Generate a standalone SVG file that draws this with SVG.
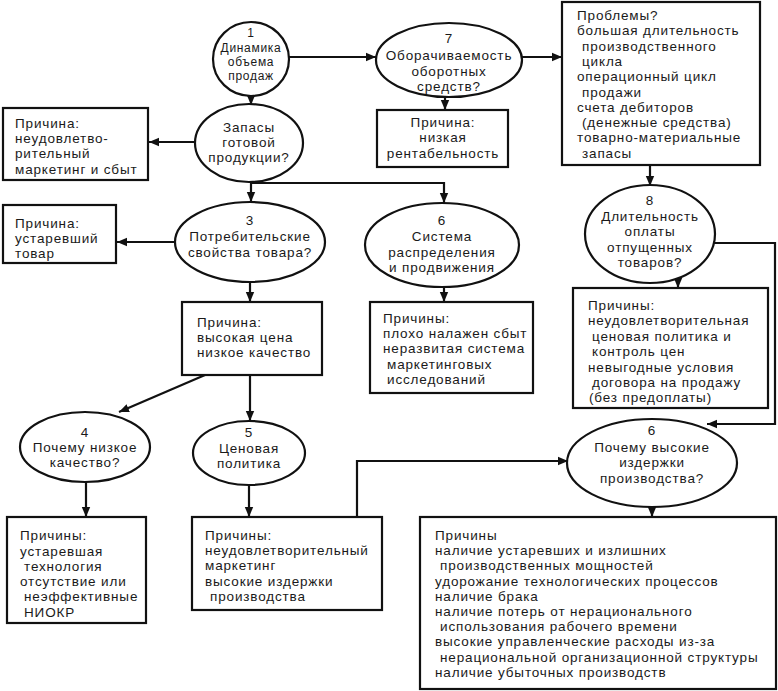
<svg xmlns="http://www.w3.org/2000/svg" width="778" height="691" viewBox="0 0 778 691">
<defs>
<marker id="ah" markerUnits="userSpaceOnUse" markerWidth="10" markerHeight="10" viewBox="0 0 10 10" refX="10" refY="5" orient="auto">
<path d="M0,0.8 L10,5 L0,9.2 Z" fill="#111"/>
</marker>
<style>
.sh{fill:#fff;stroke:#111;stroke-width:2.2}
.ln{fill:none;stroke:#111;stroke-width:2.2}
.t{font-family:"Liberation Sans",Arial,sans-serif;font-size:13.5px;letter-spacing:0.85px;fill:#1a1a1a}
.c{text-anchor:middle}
.s{font-size:12px;letter-spacing:0.7px}
</style>
</defs>
<rect width="778" height="691" fill="#fff"/>
<g id="connectors">
<path class="ln" d="M289,57 L376,57" marker-end="url(#ah)"/>
<path class="ln" d="M251,96 L251,105" marker-end="url(#ah)"/>
<path class="ln" d="M195,142 L149,142" marker-end="url(#ah)"/>
<path class="ln" d="M251,182 L251,202" marker-end="url(#ah)"/>
<path class="ln" d="M251,183 L444,183 L444,203" marker-end="url(#ah)"/>
<path class="ln" d="M175,242 L117,242" marker-end="url(#ah)"/>
<path class="ln" d="M250,282 L250,302" marker-end="url(#ah)"/>
<path class="ln" d="M205,375 L119,412" marker-end="url(#ah)"/>
<path class="ln" d="M250,375 L250,421" marker-end="url(#ah)"/>
<path class="ln" d="M86,482 L86,517" marker-end="url(#ah)"/>
<path class="ln" d="M249,485 L249,517" marker-end="url(#ah)"/>
<path class="ln" d="M357,517 L357,461 L568,461" marker-end="url(#ah)"/>
<path class="ln" d="M522,57 L562,57" marker-end="url(#ah)"/>
<path class="ln" d="M445,97 L445,110" marker-end="url(#ah)"/>
<path class="ln" d="M650,165 L650,186" marker-end="url(#ah)"/>
<path class="ln" d="M444,287 L444,302" marker-end="url(#ah)"/>
<path class="ln" d="M678,277 L678,288" marker-end="url(#ah)"/>
<path class="ln" d="M713,243 L775,243 L775,424 L707,424" marker-end="url(#ah)"/>
<path class="ln" d="M652,506 L652,517" marker-end="url(#ah)"/>
</g>
<g id="n1">
<ellipse class="sh" cx="251" cy="59" rx="38" ry="37"/>
<text class="t c s"><tspan x="251" y="37">1</tspan><tspan x="251" y="51.5">Динамика</tspan><tspan x="251" y="65.5">объема</tspan><tspan x="251" y="79.5">продаж</tspan></text>
</g>
<g id="n2">
<ellipse class="sh" cx="249" cy="143" rx="54" ry="39"/>
<text class="t c"><tspan x="249" y="132">Запасы</tspan><tspan x="249" y="147.2">готовой</tspan><tspan x="249" y="162.4">продукции?</tspan></text>
</g>
<g id="boxA">
<rect class="sh" x="3" y="108" width="145" height="72"/>
<text class="t"><tspan x="15" y="128">Причина:</tspan><tspan x="15" y="143.2">неудовлетво-</tspan><tspan x="15" y="158.4">рительный</tspan><tspan x="15" y="173.6">маркетинг и сбыт</tspan></text>
</g>
<g id="n3">
<ellipse class="sh" cx="250" cy="242" rx="75" ry="40"/>
<text class="t c"><tspan x="250" y="225">3</tspan><tspan x="250" y="241">Потребительские</tspan><tspan x="250" y="257">свойства товара?</tspan></text>
</g>
<g id="boxB">
<rect class="sh" x="3" y="205" width="113" height="58"/>
<text class="t"><tspan x="15" y="228">Причина:</tspan><tspan x="15" y="243.2">устаревший</tspan><tspan x="15" y="258.4">товар</tspan></text>
</g>
<g id="boxC">
<rect class="sh" x="182" y="302" width="140" height="73"/>
<text class="t"><tspan x="197" y="327">Причина:</tspan><tspan x="197" y="342.2">высокая цена</tspan><tspan x="197" y="357.4">низкое качество</tspan></text>
</g>
<g id="n4">
<ellipse class="sh" cx="85" cy="447" rx="65" ry="35"/>
<text class="t c"><tspan x="85" y="437">4</tspan><tspan x="85" y="452.2">Почему низкое</tspan><tspan x="85" y="467.4">качество?</tspan></text>
</g>
<g id="n5">
<ellipse class="sh" cx="249" cy="453" rx="56" ry="32"/>
<text class="t c"><tspan x="249" y="437">5</tspan><tspan x="249" y="453">Ценовая</tspan><tspan x="249" y="468.2">политика</tspan></text>
</g>
<g id="boxD">
<rect class="sh" x="7" y="517" width="139" height="106"/>
<text class="t"><tspan x="20" y="540">Причины:</tspan><tspan x="20" y="555.6">устаревшая</tspan><tspan x="24" y="571">технология</tspan><tspan x="20" y="586.2">отсутствие или</tspan><tspan x="24" y="601.4">неэффективные</tspan><tspan x="24" y="616.6">НИОКР</tspan></text>
</g>
<g id="boxE">
<rect class="sh" x="192" y="517" width="190" height="93"/>
<text class="t"><tspan x="205" y="540">Причины:</tspan><tspan x="205" y="555.2">неудовлетворительный</tspan><tspan x="205" y="570.4">маркетинг</tspan><tspan x="205" y="585.6">высокие издержки</tspan><tspan x="210" y="600.8">производства</tspan></text>
</g>
<g id="n7">
<ellipse class="sh" cx="449" cy="60" rx="73" ry="37"/>
<text class="t c"><tspan x="449" y="43">7</tspan><tspan x="449" y="60">Оборачиваемость</tspan><tspan x="449" y="76">оборотных</tspan><tspan x="449" y="91.2">средств?</tspan></text>
</g>
<g id="boxF">
<rect class="sh" x="377" y="110" width="131" height="57"/>
<text class="t c"><tspan x="443" y="127">Причина:</tspan><tspan x="443" y="142.2">низкая</tspan><tspan x="443" y="158">рентабельность</tspan></text>
</g>
<g id="boxProblems">
<rect class="sh" x="562" y="2" width="198" height="163"/>
<text class="t"><tspan x="577" y="20">Проблемы?</tspan><tspan x="577" y="35.3">большая длительность</tspan><tspan x="582" y="50.6">производственного</tspan><tspan x="582" y="65.9">цикла</tspan><tspan x="577" y="81.2">операционный цикл</tspan><tspan x="582" y="96.5">продажи</tspan><tspan x="577" y="111.8">счета дебиторов</tspan><tspan x="582" y="127.1">(денежные средства)</tspan><tspan x="577" y="142.4">товарно-материальные</tspan><tspan x="582" y="157.7">запасы</tspan></text>
</g>
<g id="n8">
<ellipse class="sh" cx="650" cy="234" rx="65" ry="49"/>
<text class="t c"><tspan x="650" y="205">8</tspan><tspan x="650" y="220.5">Длительность</tspan><tspan x="650" y="236">оплаты</tspan><tspan x="650" y="251.5">отпущенных</tspan><tspan x="650" y="267">товаров?</tspan></text>
</g>
<g id="boxG">
<rect class="sh" x="573" y="288" width="195" height="120"/>
<text class="t"><tspan x="588" y="310">Причины:</tspan><tspan x="588" y="325.4">неудовлетворительная</tspan><tspan x="592" y="340.8">ценовая политика и</tspan><tspan x="592" y="356.2">контроль цен</tspan><tspan x="588" y="371.6">невыгодные условия</tspan><tspan x="592" y="387">договора на продажу</tspan><tspan x="589" y="402.4">(без предоплаты)</tspan></text>
</g>
<g id="n6">
<ellipse class="sh" cx="442" cy="245" rx="77" ry="42"/>
<text class="t c"><tspan x="442" y="225">6</tspan><tspan x="442" y="241">Система</tspan><tspan x="442" y="256.5">распределения</tspan><tspan x="442" y="272">и продвижения</tspan></text>
</g>
<g id="box6">
<rect class="sh" x="370" y="302" width="163" height="91"/>
<text class="t"><tspan x="383" y="323">Причины:</tspan><tspan x="383" y="338.2">плохо налажен сбыт</tspan><tspan x="383" y="353.4">неразвитая система</tspan><tspan x="387" y="368.6">маркетинговых</tspan><tspan x="387" y="383.8">исследований</tspan></text>
</g>
<g id="n6b">
<ellipse class="sh" cx="652" cy="463" rx="85" ry="44"/>
<text class="t c"><tspan x="652" y="435">6</tspan><tspan x="652" y="451.5">Почему высокие</tspan><tspan x="652" y="467">издержки</tspan><tspan x="652" y="483">производства?</tspan></text>
</g>
<g id="boxH">
<rect class="sh" x="420" y="517" width="356" height="172"/>
<text class="t"><tspan x="435" y="540">Причины</tspan><tspan x="435" y="555.2">наличие устаревших и излишних</tspan><tspan x="440" y="570.4">производственных мощностей</tspan><tspan x="435" y="585.6">удорожание технологических процессов</tspan><tspan x="435" y="600.8">наличие брака</tspan><tspan x="435" y="616">наличие потерь от нерационального</tspan><tspan x="440" y="631.2">использования рабочего времени</tspan><tspan x="435" y="646.4">высокие управленческие расходы из-за</tspan><tspan x="440" y="661.6">нерациональной организационной структуры</tspan><tspan x="435" y="676.8">наличие убыточных производств</tspan></text>
</g>
</svg>
